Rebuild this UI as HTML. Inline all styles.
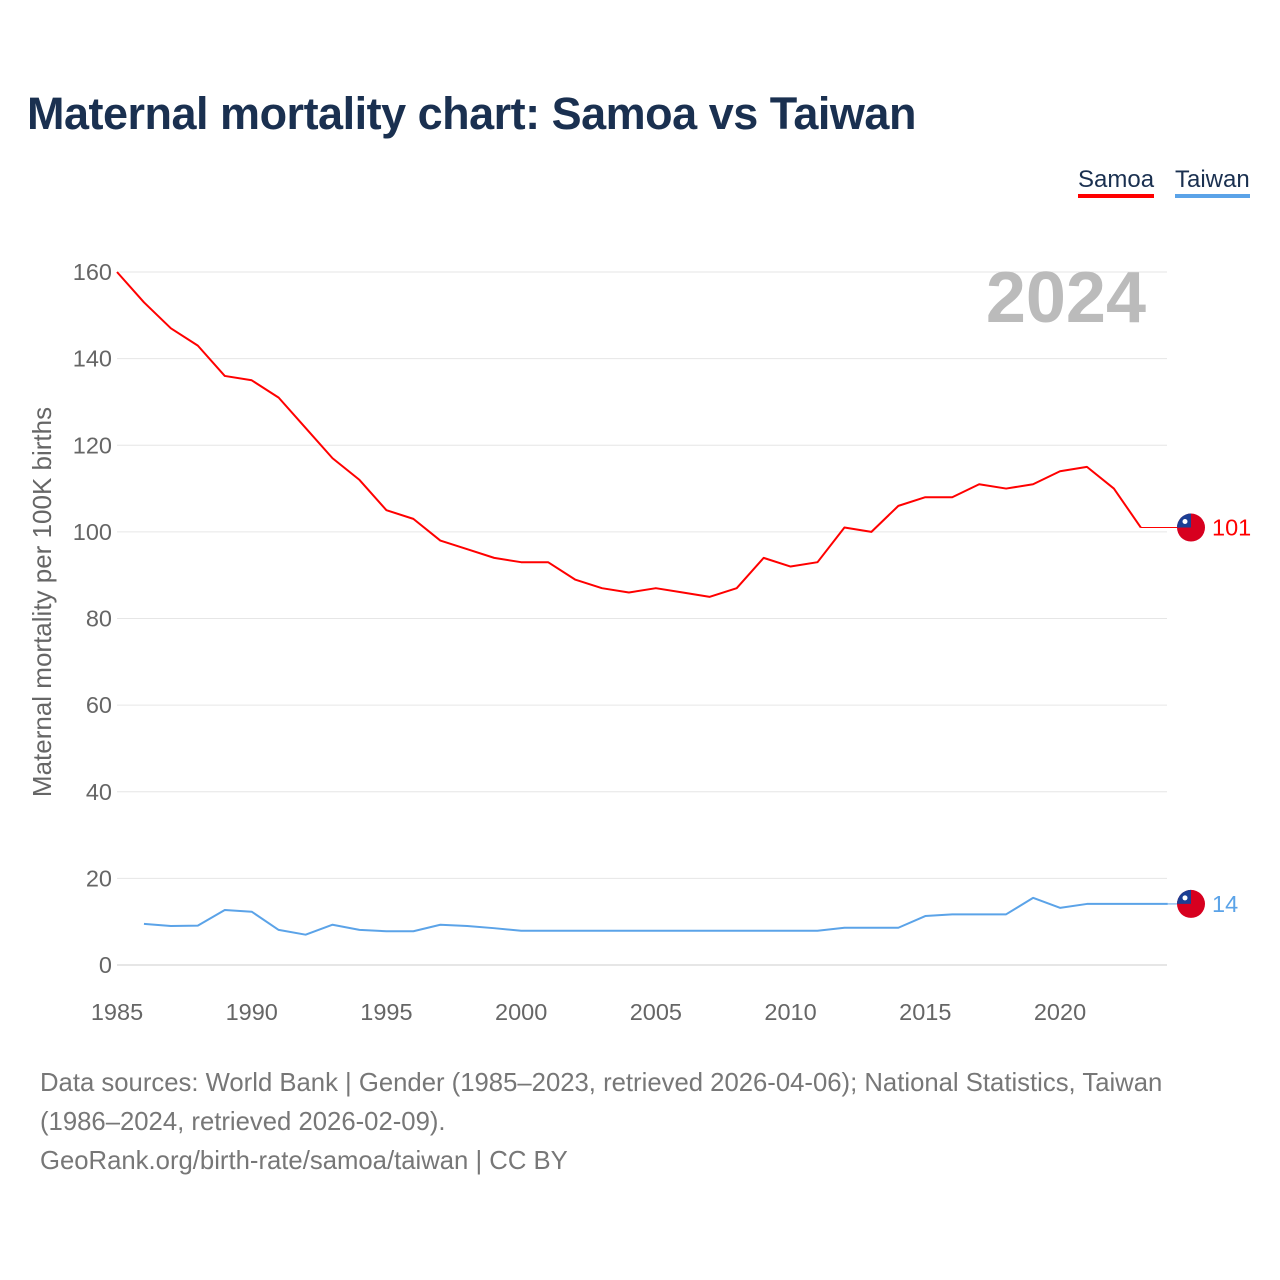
<!DOCTYPE html>
<html><head><meta charset="utf-8"><style>
body{margin:0;width:1280px;height:1280px;background:#fff;font-family:"Liberation Sans",sans-serif;position:relative;overflow:hidden}
.t{position:absolute}
</style></head><body>
<div class="t" style="left:27px;top:88px;font-size:45px;font-weight:bold;color:#1a3050;letter-spacing:-0.5px">Maternal mortality chart: Samoa vs Taiwan</div>
<div class="t" style="left:1078px;top:166px;font-size:24px;color:#1a3050;border-bottom:4px solid #ff0000;line-height:28px">Samoa</div>
<div class="t" style="left:1175px;top:166px;font-size:24px;color:#1a3050;border-bottom:4px solid #5ba3e8;line-height:28px">Taiwan</div>
<svg id="chart" width="1280" height="1060" style="position:absolute;left:0;top:0"></svg>
<div class="t" style="left:40px;top:1064px;font-size:25.7px;color:#777;line-height:39px;white-space:nowrap">Data sources: World Bank | Gender (1985–2023, retrieved 2026-04-06); National Statistics, Taiwan<br>(1986–2024, retrieved 2026-02-09).<br>GeoRank.org/birth-rate/samoa/taiwan | CC BY</div>
<script>
const yTicks=[0,20,40,60,80,100,120,140,160];
const xTicks=[1985,1990,1995,2000,2005,2010,2015,2020];
const samoaYears=[1985,1986,1987,1988,1989,1990,1991,1992,1993,1994,1995,1996,1997,1998,1999,2000,2001,2002,2003,2004,2005,2006,2007,2008,2009,2010,2011,2012,2013,2014,2015,2016,2017,2018,2019,2020,2021,2022,2023];
const samoaVals=[160,153,147,143,136,135,131,124,117,112,105,103,98,96,94,93,93,89,87,86,87,86,85,87,94,92,93,101,100,106,108,108,111,110,111,114,115,110,101];
const taiwanYears=[1986,1987,1988,1989,1990,1991,1992,1993,1994,1995,1996,1997,1998,1999,2000,2001,2002,2003,2004,2005,2006,2007,2008,2009,2010,2011,2012,2013,2014,2015,2016,2017,2018,2019,2020,2021,2022,2023,2024];
const taiwanVals=[9.5,9,9.1,12.7,12.3,8.1,7,9.3,8.1,7.8,7.8,9.3,9,8.5,7.9,7.9,7.9,7.9,7.9,7.9,7.9,7.9,7.9,7.9,7.9,7.9,8.6,8.6,8.6,11.3,11.7,11.7,11.7,15.5,13.2,14.1,14.1,14.1,14.1];
const NS="http://www.w3.org/2000/svg";
const svg=document.getElementById('chart');
const X=y=>117+(y-1985)*(1060-117)/35;
const Y=v=>965-v*(965-272)/160;
function mk(tag,attrs,parent){const e=document.createElementNS(NS,tag);for(const k in attrs)e.setAttribute(k,attrs[k]);(parent||svg).appendChild(e);return e;}
yTicks.forEach(v=>{
 const l=mk('line',{x1:117,x2:1167,y1:Y(v),y2:Y(v),stroke:v===0?'#ccc':'#e6e6e6','stroke-width':1});
 
 
 const t=mk('text',{x:112,y:Y(v)+8,'text-anchor':'end','font-size':23.5,fill:'#666'});t.textContent=v;
 
 
});
xTicks.forEach(v=>{
 const t=mk('text',{x:X(v),y:1020,'text-anchor':'middle','font-size':23.5,fill:'#666'});t.textContent=v;
 
 
});
const yt=mk('text',{transform:'translate(51,602) rotate(-90)','text-anchor':'middle','font-size':26,fill:'#666'});yt.textContent='Maternal mortality per 100K births';


const yr=mk('text',{x:1146,y:322,'text-anchor':'end','font-size':72,'font-weight':'bold',fill:'#bbb'});yr.textContent='2024';


function line(years,vals,color,name){
 const p=mk('polyline',{points:years.map((y,i)=>X(y)+','+Y(vals[i])).join(' '),fill:'none',stroke:color,'stroke-width':2,'stroke-linejoin':'round'});
 
 
}
line(samoaYears,samoaVals,'#ff0000','samoa-line');
line(taiwanYears,taiwanVals,'#5ba3e8','taiwan-line');
const sl=samoaVals[samoaVals.length-1], tl=taiwanVals[taiwanVals.length-1];
const ext=mk('line',{x1:X(2023),x2:1180,y1:Y(sl),y2:Y(sl),stroke:'#ff0000','stroke-width':1});


const ext2=mk('line',{x1:X(2024),x2:1180,y1:Y(tl),y2:Y(tl),stroke:'#5ba3e8','stroke-width':1});


function flag(cy,name){
 const g=mk('g',{});
 
 
 mk('circle',{cx:1191,cy:cy,r:14,fill:'#d7001f'},g);
 mk('path',{d:`M1177 ${cy} A14 14 0 0 1 1191 ${cy-14} L1191 ${cy} Z`,fill:'#1c3f94'},g);
 mk('circle',{cx:1185,cy:cy-6,r:2.5,fill:'#fff'},g);
}
flag(Y(sl),'samoa-flag');
flag(Y(tl),'taiwan-flag');
const l1=mk('text',{x:1212,y:Y(sl)+8,'font-size':23.5,fill:'#ff0000'});l1.textContent=Math.round(sl);


const l2=mk('text',{x:1212,y:Y(tl)+8,'font-size':23.5,fill:'#5ba3e8'});l2.textContent=Math.round(tl);


</script>
</body></html>
